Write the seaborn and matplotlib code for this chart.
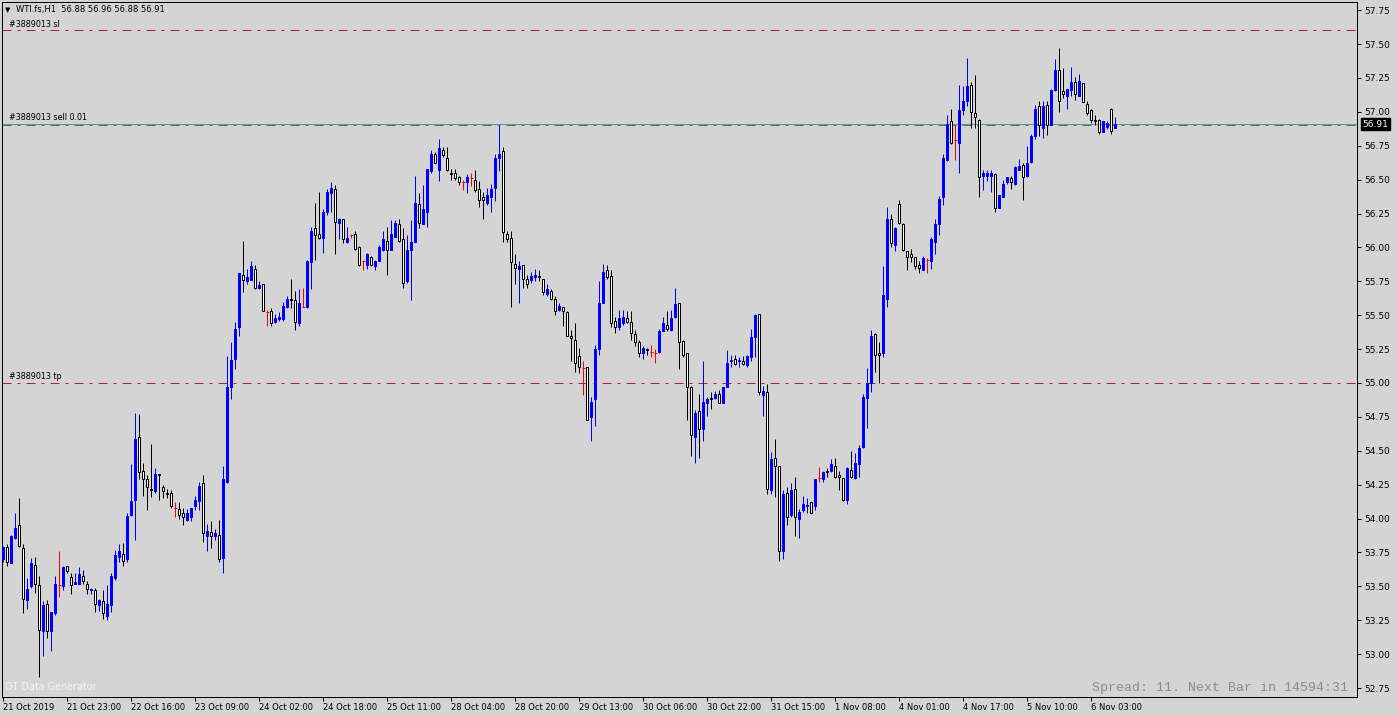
import numpy as np
import pandas as pd
import seaborn as sns
import matplotlib.pyplot as plt
import matplotlib.transforms as mtransforms

# WTI.fs H1 candles (oldest first)
opens = [53.70, 53.79, 53.67, 53.86, 53.95, 53.78, 53.40, 53.50, 53.66, 53.51,
         53.17, 53.37, 53.17, 53.30, 53.51, 53.50, 53.65, 53.57, 53.52, 53.52,
         53.58, 53.52, 53.47, 53.47, 53.36, 53.39, 53.28, 53.36, 53.56, 53.72,
         53.74, 53.70, 54.03, 54.14, 54.60, 54.35, 54.29, 54.22, 54.20, 54.33,
         54.23, 54.19, 54.19, 54.08, 54.07, 54.04, 53.99, 54.01, 54.09, 54.13,
         54.26, 53.87, 53.90, 53.87, 53.88, 53.71, 54.27, 54.97, 55.18, 55.41,
         55.80, 55.75, 55.76, 55.84, 55.70, 55.73, 55.52, 55.53, 55.45, 55.47,
         55.47, 55.56, 55.62, 55.61, 55.44, 55.56, 55.56, 55.89, 56.14, 56.10,
         56.07, 56.26, 56.40, 56.43, 56.18, 56.21, 56.04, 56.09, 56.10, 56.00,
         55.90, 55.87, 55.93, 55.86, 55.90, 55.98, 56.05, 55.98, 56.08, 56.17,
         56.06, 55.75, 55.98, 56.04, 56.32, 56.17, 56.26, 56.56, 56.69, 56.57,
         56.72, 56.66, 56.55, 56.55, 56.52, 56.48, 56.48, 56.51, 56.50, 56.43,
         56.37, 56.33, 56.37, 56.44, 56.66, 56.71, 56.10, 56.07, 55.88, 55.84,
         55.87, 55.77, 55.76, 55.78, 55.79, 55.77, 55.66, 55.68, 55.62, 55.54,
         55.56, 55.52, 55.35, 55.32, 55.20, 55.11, 55.12, 54.75, 54.88, 55.25,
         55.59, 55.83, 55.79, 55.46, 55.41, 55.44, 55.48, 55.45, 55.36, 55.30,
         55.22, 55.25, 55.23, 55.22, 55.23, 55.38, 55.43, 55.39, 55.49, 55.59,
         55.31, 55.22, 54.97, 54.60, 54.79, 54.66, 54.85, 54.89, 54.89, 54.92,
         54.85, 54.97, 55.16, 55.18, 55.16, 55.16, 55.13, 55.19, 55.34, 55.51,
         54.91, 54.93, 54.21, 54.45, 54.39, 53.76, 54.19, 54.03, 54.22, 54.00,
         54.06, 54.09, 54.12, 54.09, 54.30, 54.29, 54.35, 54.35, 54.39, 54.32,
         54.30, 54.14, 54.36, 54.30, 54.40, 54.53, 54.89, 55.00, 55.36, 55.22,
         55.22, 55.62, 56.21, 56.02, 56.32, 56.17, 55.97, 55.95, 55.93, 55.87,
         55.83, 55.91, 55.90, 56.04, 56.17, 56.37, 56.645, 56.93, 56.79, 56.77,
         57.01, 57.08, 57.20, 56.99, 56.94, 56.53, 56.53, 56.53, 56.54, 56.29,
         56.37, 56.48, 56.51, 56.465, 56.57, 56.61, 56.53, 56.63, 56.82, 57.04,
         56.88, 57.05, 56.90, 57.16, 57.31, 57.15, 57.12, 57.16, 57.22, 57.12,
         57.21, 57.06, 57.01, 56.94, 56.94, 56.85, 56.89, 57.02, 56.88]
highs = [53.80, 53.81, 53.88, 54.04, 54.15, 53.81, 53.56, 53.71, 53.72, 53.58,
         53.39, 53.40, 53.31, 53.58, 53.76, 53.65, 53.65, 53.60, 53.60, 53.64,
         53.62, 53.54, 53.49, 53.49, 53.41, 53.47, 53.51, 53.60, 53.77, 53.81,
         53.82, 54.04, 54.40, 54.78, 54.77, 54.41, 54.32, 54.55, 54.37, 54.33,
         54.25, 54.22, 54.21, 54.12, 54.12, 54.08, 54.07, 54.08, 54.17, 54.27,
         54.32, 53.96, 53.98, 53.92, 53.99, 54.39, 55.20, 55.30, 55.45, 55.81,
         56.05, 55.84, 55.90, 55.87, 55.75, 55.73, 55.54, 55.55, 55.51, 55.52,
         55.60, 55.64, 55.77, 55.68, 55.69, 55.70, 55.91, 56.15, 56.33, 56.41,
         56.28, 56.43, 56.48, 56.46, 56.22, 56.21, 56.15, 56.10, 56.12, 56.01,
         55.91, 55.96, 55.94, 55.91, 56.02, 56.12, 56.15, 56.20, 56.20, 56.21,
         56.14, 56.09, 56.20, 56.53, 56.40, 56.46, 56.58, 56.72, 56.70, 56.80,
         56.74, 56.74, 56.58, 56.58, 56.53, 56.50, 56.54, 56.55, 56.57, 56.49,
         56.41, 56.44, 56.47, 56.69, 56.90, 56.74, 56.12, 56.12, 55.95, 55.90,
         55.87, 55.80, 55.82, 55.84, 55.83, 55.77, 55.73, 55.69, 55.64, 55.59,
         55.56, 55.53, 55.39, 55.44, 55.26, 55.16, 55.12, 54.90, 55.28, 55.75,
         55.88, 55.87, 55.83, 55.49, 55.54, 55.54, 55.53, 55.53, 55.39, 55.32,
         55.27, 55.26, 55.28, 55.25, 55.40, 55.49, 55.53, 55.54, 55.70, 55.59,
         55.32, 55.22, 54.98, 54.80, 54.92, 55.16, 54.90, 54.93, 54.94, 54.95,
         54.97, 55.24, 55.21, 55.21, 55.19, 55.20, 55.21, 55.40, 55.51, 55.51,
         54.98, 54.99, 54.49, 54.59, 54.39, 54.21, 54.23, 54.26, 54.31, 54.07,
         54.17, 54.15, 54.12, 54.29, 54.38, 54.35, 54.37, 54.44, 54.45, 54.35,
         54.30, 54.38, 54.50, 54.48, 54.54, 54.92, 55.11, 55.39, 55.37, 55.30,
         55.86, 56.30, 56.25, 56.15, 56.35, 56.18, 55.97, 55.99, 55.93, 55.90,
         55.94, 55.92, 56.08, 56.21, 56.38, 56.69, 56.98, 57.02, 56.90, 57.20,
         57.19, 57.40, 57.22, 57.27, 56.95, 56.57, 56.57, 56.57, 56.55, 56.39,
         56.50, 56.52, 56.53, 56.60, 56.65, 56.62, 56.75, 56.84, 57.05, 57.08,
         57.08, 57.08, 57.17, 57.39, 57.47, 57.32, 57.17, 57.33, 57.26, 57.28,
         57.21, 57.08, 57.02, 56.98, 56.95, 56.93, 56.93, 57.03, 56.96]
lows = [53.68, 53.65, 53.67, 53.85, 53.79, 53.30, 53.33, 53.49, 53.45, 52.83,
        52.99, 53.12, 53.02, 53.29, 53.42, 53.47, 53.60, 53.44, 53.52, 53.52,
        53.52, 53.44, 53.44, 53.31, 53.32, 53.26, 53.25, 53.31, 53.55, 53.68,
        53.65, 53.68, 54.02, 53.84, 54.29, 54.17, 54.06, 54.16, 54.19, 54.14,
        54.15, 54.15, 54.08, 54.01, 54.00, 53.95, 53.98, 53.98, 54.06, 54.06,
        53.83, 53.76, 53.78, 53.84, 53.68, 53.60, 54.26, 54.88, 55.10, 55.35,
        55.67, 55.73, 55.76, 55.69, 55.69, 55.53, 55.42, 55.42, 55.44, 55.46,
        55.46, 55.55, 55.55, 55.39, 55.42, 55.56, 55.55, 55.69, 55.91, 56.06,
        55.96, 56.24, 56.26, 55.95, 56.06, 56.03, 56.03, 56.07, 55.98, 55.86,
        55.83, 55.84, 55.86, 55.83, 55.90, 55.97, 55.80, 55.98, 56.08, 56.04,
        55.70, 55.74, 55.61, 56.04, 56.14, 56.17, 56.15, 56.55, 56.62, 56.49,
        56.67, 56.56, 56.50, 56.50, 56.46, 56.42, 56.40, 56.45, 56.41, 56.30,
        56.21, 56.31, 56.26, 56.34, 56.56, 56.04, 56.04, 55.56, 55.73, 55.59,
        55.70, 55.70, 55.74, 55.75, 55.75, 55.65, 55.64, 55.61, 55.50, 55.53,
        55.42, 55.35, 55.16, 55.08, 55.07, 54.91, 54.73, 54.575, 54.68, 55.21,
        55.59, 55.77, 55.41, 55.37, 55.39, 55.43, 55.44, 55.32, 55.27, 55.19,
        55.18, 55.21, 55.19, 55.15, 55.22, 55.38, 55.38, 55.38, 55.48, 55.10,
        55.19, 54.73, 54.46, 54.41, 54.45, 54.57, 54.76, 54.81, 54.88, 54.85,
        54.85, 54.97, 55.12, 55.13, 55.12, 55.13, 55.12, 55.16, 55.19, 54.91,
        54.76, 54.18, 54.18, 54.16, 53.69, 53.70, 53.95, 54.01, 53.87, 53.86,
        54.05, 54.04, 54.04, 54.06, 54.27, 54.27, 54.31, 54.34, 54.30, 54.21,
        54.13, 54.11, 54.30, 54.29, 54.31, 54.52, 54.67, 54.93, 55.08, 55.00,
        55.19, 55.56, 56.00, 55.97, 56.17, 55.97, 55.83, 55.89, 55.84, 55.81,
        55.83, 55.81, 55.84, 55.95, 56.09, 56.31, 56.64, 56.76, 56.645, 56.55,
        56.98, 57.04, 56.88, 56.88, 56.37, 56.42, 56.49, 56.41, 56.26, 56.29,
        56.37, 56.47, 56.43, 56.46, 56.57, 56.35, 56.52, 56.62, 56.80, 56.82,
        56.81, 56.83, 56.90, 57.15, 57.00, 57.10, 57.02, 57.12, 57.09, 57.12,
        57.07, 56.98, 56.92, 56.90, 56.84, 56.85, 56.87, 56.84, 56.88]
closes = [53.79, 53.68, 53.87, 53.93, 53.80, 53.41, 53.48, 53.67, 53.52, 53.18,
          53.36, 53.17, 53.31, 53.52, 53.51, 53.64, 53.61, 53.51, 53.53, 53.59,
          53.54, 53.48, 53.48, 53.37, 53.40, 53.30, 53.37, 53.58, 53.73, 53.76,
          53.69, 54.02, 54.13, 54.59, 54.34, 54.29, 54.23, 54.21, 54.33, 54.32,
          54.20, 54.18, 54.09, 54.08, 54.03, 54.01, 54.04, 54.08, 54.14, 54.24,
          53.89, 53.91, 53.87, 53.89, 53.70, 54.29, 54.97, 55.17, 55.40, 55.81,
          55.76, 55.78, 55.86, 55.70, 55.72, 55.53, 55.52, 55.44, 55.48, 55.49,
          55.57, 55.62, 55.61, 55.45, 55.59, 55.56, 55.90, 56.12, 56.09, 56.07,
          56.26, 56.41, 56.44, 56.19, 56.21, 56.06, 56.07, 56.09, 55.99, 55.87,
          55.90, 55.95, 55.87, 55.90, 56.00, 56.06, 55.98, 56.10, 56.18, 56.05,
          55.74, 55.98, 56.04, 56.33, 56.18, 56.28, 56.58, 56.69, 56.62, 56.73,
          56.68, 56.57, 56.54, 56.51, 56.48, 56.48, 56.52, 56.51, 56.42, 56.35,
          56.35, 56.39, 56.43, 56.66, 56.69, 56.11, 56.06, 55.89, 55.85, 55.86,
          55.77, 55.73, 55.79, 55.80, 55.78, 55.67, 55.69, 55.62, 55.53, 55.57,
          55.53, 55.35, 55.33, 55.15, 55.12, 55.11, 54.73, 54.86, 55.25, 55.59,
          55.82, 55.78, 55.44, 55.41, 55.48, 55.49, 55.45, 55.37, 55.30, 55.22,
          55.26, 55.24, 55.23, 55.22, 55.38, 55.44, 55.40, 55.48, 55.58, 55.30,
          55.21, 54.97, 54.62, 54.78, 54.66, 54.86, 54.88, 54.88, 54.92, 54.85,
          54.97, 55.15, 55.17, 55.14, 55.17, 55.14, 55.20, 55.34, 55.50, 54.93,
          54.94, 54.22, 54.44, 54.39, 53.76, 54.18, 54.01, 54.21, 54.01, 54.05,
          54.11, 54.10, 54.04, 54.29, 54.30, 54.34, 54.34, 54.40, 54.31, 54.31,
          54.14, 54.37, 54.31, 54.41, 54.52, 54.90, 55.00, 55.35, 55.21, 55.21,
          55.65, 56.21, 56.03, 56.14, 56.18, 55.98, 55.93, 55.93, 55.86, 55.85,
          55.92, 55.91, 56.06, 56.17, 56.36, 56.66, 56.91, 56.77, 56.79, 57.01,
          57.08, 57.19, 57.00, 56.96, 56.52, 56.55, 56.55, 56.55, 56.29, 56.39,
          56.47, 56.52, 56.48, 56.59, 56.60, 56.52, 56.62, 56.82, 57.02, 56.90,
          57.04, 56.90, 57.16, 57.31, 57.08, 57.13, 57.17, 57.22, 57.13, 57.23,
          57.07, 56.99, 56.94, 56.93, 56.85, 56.93, 56.92, 56.86, 56.91]

date_labels = ['21 Oct 2019', '21 Oct 23:00', '22 Oct 16:00', '23 Oct 09:00',
               '24 Oct 02:00', '24 Oct 18:00', '25 Oct 11:00', '28 Oct 04:00',
               '28 Oct 20:00', '29 Oct 13:00', '30 Oct 06:00', '30 Oct 22:00',
               '31 Oct 15:00', '1 Nov 08:00', '4 Nov 01:00', '4 Nov 17:00',
               '5 Nov 10:00', '6 Nov 03:00']
price_ticks = [52.75, 53.00, 53.25, 53.50, 53.75, 54.00, 54.25, 54.50, 54.75,
               55.00, 55.25, 55.50, 55.75, 56.00, 56.25, 56.50, 56.75, 57.00,
               57.25, 57.50, 57.75]

sl_price = 57.60
sell_price = 56.91
tp_price = 55.00
order_id = '#3889013'

BG = '#d4d4d4'
BULL = '#0000ff'
PX = 0.72  # one pixel in points at dpi 100

df = pd.DataFrame({'open': opens, 'high': highs, 'low': lows, 'close': closes})
df['bar'] = np.arange(len(df))
up = df[df.close > df.open]
down = df[df.close < df.open]
doji = df[df.close == df.open]

sns.set_theme(style='white', rc={'axes.facecolor': BG, 'figure.facecolor': BG,
                                 'axes.edgecolor': 'black', 'axes.linewidth': PX})
plt.rcParams['font.family'] = ['DejaVu Sans']

fig = plt.figure(figsize=(13.97, 7.16), dpi=100)
ax = fig.add_axes([2 / 1397, 19 / 716, 1355 / 1397, 695 / 716])

# wicks
ax.vlines(down.bar, down.low, down.high, color='black', lw=PX, zorder=2)
ax.vlines(up.bar, up.low, up.high, color=BULL, lw=PX, zorder=2)
ax.vlines(doji.bar, doji.low, doji.high, color='red', lw=PX, zorder=2)
# bodies
ax.bar(up.bar, up.close - up.open, bottom=up.open, width=0.5,
       color=BULL, edgecolor=BULL, lw=PX, zorder=3)
ax.bar(down.bar, down.open - down.close, bottom=down.close, width=0.5,
       facecolor='white', edgecolor='black', lw=PX, zorder=3)
ax.hlines(doji.open, doji.bar - 0.45, doji.bar + 0.45, color='red', lw=PX, zorder=3)

# order levels
dashdot = (0, (9, 6, 3, 6))
ax.axhline(sl_price, color='#b22222', lw=PX, ls=dashdot, zorder=1)
ax.axhline(tp_price, color='#b22222', lw=PX, ls=dashdot, zorder=1)
ax.axhline(sell_price, color='#778899', lw=PX, zorder=1)
ax.axhline(sell_price - 0.006, color='#2e8b57', lw=PX, ls=dashdot, zorder=1)

trans = mtransforms.blended_transform_factory(ax.transAxes, ax.transData)
for lvl, txt in [(sl_price, f'{order_id} sl'), (sell_price, f'{order_id} sell 0.01'),
                 (tp_price, f'{order_id} tp')]:
    ax.text(0.0055, lvl + 0.012, txt, transform=trans, fontsize=5.8,
            color='black', ha='left', va='bottom')

ax.set_xlim(-0.33, 338.4)
ax.set_ylim(52.684, 57.81)

ax.yaxis.tick_right()
ax.set_yticks(price_ticks)
ax.set_yticklabels([f'{p:.2f}' for p in price_ticks])
ax.set_xticks(df.bar[::16])
ax.set_xticklabels(date_labels, ha='left')
ax.tick_params(axis='y', right=True, direction='out', length=3, width=PX,
               labelsize=6.5, pad=2, colors='black')
ax.tick_params(axis='x', bottom=True, direction='out', length=3, width=PX,
               labelsize=6.0, pad=1.5, colors='black')
for lab in ax.get_xticklabels():
    lab.set_horizontalalignment('left')

# current bid label on the price scale
ax.annotate(f'{closes[-1]:.2f}', xy=(1.0, closes[-1]), xycoords=trans,
            xytext=(4, 0), textcoords='offset points', fontsize=6.5,
            color='white', va='center', ha='left',
            bbox=dict(boxstyle='square,pad=0.15', fc='black', ec='black'),
            annotation_clip=False)

ax.text(0.0025, 0.9885, '\u25bc', transform=ax.transAxes, fontsize=5,
        va='center', ha='left', color='black')
ax.text(0.0105, 0.9885,
        f'WTI.fs,H1  {opens[-1]:.2f} {highs[-1]:.2f} {lows[-1]:.2f} {closes[-1]:.2f}',
        transform=ax.transAxes, fontsize=6.0, va='center', ha='left', color='black')
ax.text(0.0025, 0.014, 'DT Data Generator', transform=ax.transAxes,
        fontsize=6.9, color='#f4f4f4', va='center', ha='left')
ax.text(0.9935, 0.013, 'Spread: 11. Next Bar in 14594:31', transform=ax.transAxes,
        fontsize=9.5, color='#8c8c8c', family='Liberation Mono', va='center', ha='right')

fig.savefig('out.png', dpi=100, facecolor=BG)
